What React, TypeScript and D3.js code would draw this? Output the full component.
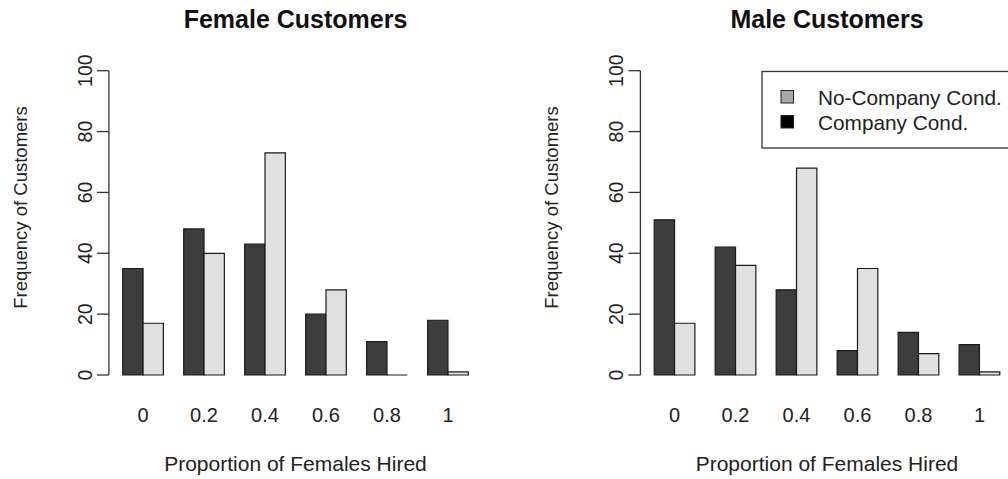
import React from "react";
import * as d3 from "d3";

const categories = ["0", "0.2", "0.4", "0.6", "0.8", "1"];
const femaleCompany = [35, 48, 43, 20, 11, 18];
const femaleNoCompany = [17, 40, 73, 28, 0, 1];
const maleCompany = [51, 42, 28, 8, 14, 10];
const maleNoCompany = [17, 36, 68, 35, 7, 1];
const yTicks = [0, 20, 40, 60, 80, 100];
const seriesNames = ["Company", "NoCompany"];
const legendLabels = ["No-Company Cond.", "Company Cond."];
const titles = ["Female Customers", "Male Customers"];

const W = 1008;
const H = 479;
const FONT = "'Liberation Sans', Arial, Helvetica, sans-serif";
const DARK = "#3d3d3d";
const LIGHT = "#e0e0e0";

type PanelProps = {
  dx: number;
  title: string;
  company: number[];
  noCompany: number[];
  legend?: boolean;
};

function Panel({ dx, title, company, noCompany, legend }: PanelProps) {
  // R barplot user coordinates: bars occupy units 1..18, region extended by 4%
  const xUnit = d3.scaleLinear().domain([0.32, 18.68]).range([108.9 + dx, 482.1 + dx]);
  const y = d3.scaleLinear().domain([0, 100]).range([375, 70.7]);
  const xGroup = d3
    .scaleBand<string>()
    .domain(categories)
    .range([xUnit(1), xUnit(18)])
    .paddingInner(1 / 3)
    .paddingOuter(0);
  const xSeries = d3
    .scaleBand<string>()
    .domain(seriesNames)
    .range([0, xGroup.bandwidth()])
    .padding(0);
  const plotLeft = xUnit.range()[0];
  const plotCenter = (xUnit(1) + xUnit(18)) / 2;
  const values: Record<string, number[]> = { Company: company, NoCompany: noCompany };
  const fills: Record<string, string> = { Company: DARK, NoCompany: LIGHT };

  const barPath = (x0: number, x1: number, v: number) => {
    const p = d3.path();
    const y0 = y(0);
    const y1 = y(v);
    p.moveTo(x0, y0);
    p.lineTo(x0, y1);
    p.lineTo(x1, y1);
    p.lineTo(x1, y0);
    p.closePath();
    return p.toString();
  };

  return (
    <g>
      <text
        x={plotCenter}
        y={28}
        textAnchor="middle"
        fontFamily={FONT}
        fontWeight="bold"
        fontSize={25}
        fill="#111"
      >
        {title}
      </text>
      {/* bars */}
      {categories.map((c, i) =>
        seriesNames.map((s) => {
          const x0 = (xGroup(c) as number) + (xSeries(s) as number);
          const x1 = x0 + xSeries.bandwidth();
          return (
            <path
              key={c + s}
              d={barPath(x0, x1, values[s][i])}
              fill={fills[s]}
              stroke="#1a1a1a"
              strokeWidth={1.2}
            />
          );
        })
      )}
      {/* y axis */}
      <line
        x1={plotLeft}
        x2={plotLeft}
        y1={y(0)}
        y2={y(100)}
        stroke="#333"
        strokeWidth={1.3}
      />
      {yTicks.map((t) => (
        <g key={t}>
          <line
            x1={plotLeft - 12}
            x2={plotLeft}
            y1={y(t)}
            y2={y(t)}
            stroke="#333"
            strokeWidth={1.3}
          />
          <text
            transform={`translate(${plotLeft - 17},${y(t)}) rotate(-90)`}
            textAnchor="middle"
            fontFamily={FONT}
            fontSize={19.5}
            fill="#222"
          >
            {t}
          </text>
        </g>
      ))}
      <text
        transform={`translate(${plotLeft - 82},207.5) rotate(-90)`}
        textAnchor="middle"
        fontFamily={FONT}
        fontSize={18.5}
        fill="#222"
      >
        Frequency of Customers
      </text>
      {/* x tick labels */}
      {categories.map((c) => (
        <text
          key={c}
          x={(xGroup(c) as number) + xGroup.bandwidth() / 2}
          y={422}
          textAnchor="middle"
          fontFamily={FONT}
          fontSize={20}
          fill="#222"
        >
          {c}
        </text>
      ))}
      <text
        x={plotCenter}
        y={471}
        textAnchor="middle"
        fontFamily={FONT}
        fontSize={21}
        fill="#222"
      >
        Proportion of Females Hired
      </text>
      {legend && (
        <g>
          <rect x={762} y={71.5} width={260} height={76.5} fill="white" stroke="#333" strokeWidth={1.3} />
          {legendLabels.map((l, i) => (
            <g key={l}>
              <rect
                x={781}
                y={90.5 + i * 25}
                width={12.5}
                height={12.5}
                fill={i === 0 ? "#a6a6a6" : "#000"}
                stroke="#222"
                strokeWidth={1}
              />
              <text x={818} y={104.5 + i * 25} fontFamily={FONT} fontSize={20.8} fill="#222">
                {l}
              </text>
            </g>
          ))}
        </g>
      )}
    </g>
  );
}

export default function App() {
  return (
    <svg
      width={W}
      height={H}
      style={{ position: "absolute", left: 0, top: 0, background: "white" }}
    >
      <rect x={0} y={0} width={W} height={H} fill="white" />
      <Panel dx={0} title={titles[0]} company={femaleCompany} noCompany={femaleNoCompany} />
      <Panel
        dx={531.5}
        title={titles[1]}
        company={maleCompany}
        noCompany={maleNoCompany}
        legend
      />
    </svg>
  );
}
